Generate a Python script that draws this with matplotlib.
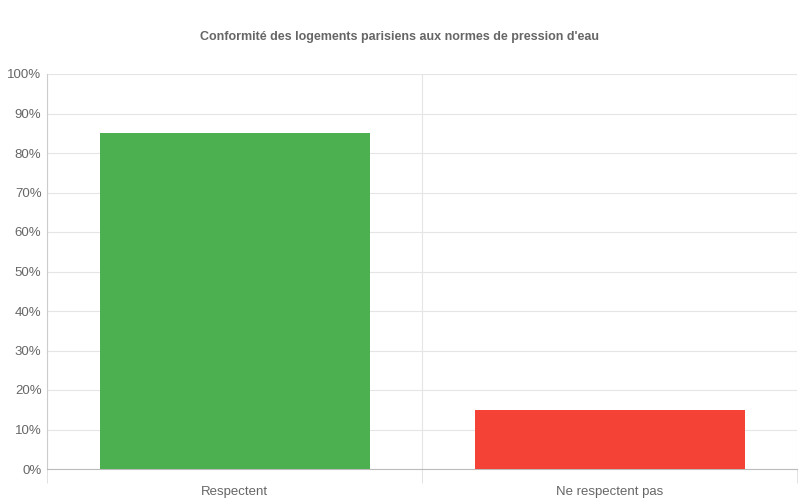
import matplotlib
matplotlib.use("Agg")
import matplotlib.pyplot as plt

categories = ["Respectent", "Ne respectent pas"]
values = [85, 15]
colors = ["#4caf50", "#f44336"]
yticks = list(range(0, 101, 10))

plt.rcParams['font.family'] = ['Liberation Sans', 'DejaVu Sans']
fig = plt.figure(figsize=(8, 5), dpi=100)
ax = fig.add_axes([47/800, 1-469/500, 750/800, 395/500])
x = range(len(categories))
ax.bar(x, values, width=0.72, color=colors, zorder=3)
ax.set_xlim(-0.5, 1.5)
ax.set_ylim(0, 100)
ax.set_yticks(yticks)
ax.set_yticklabels([f"{v}%" for v in yticks], fontsize=9.5, color="#666")
ax.set_xticks(list(x))
ax.set_xticklabels(categories, fontsize=9.5, color="#666")
ax.set_xticks([-0.5, 0.5, 1.5], minor=True)
ax.tick_params(axis='x', which='major', length=0, pad=12)
ax.tick_params(axis='x', which='minor', length=10, color="#ddd")
ax.tick_params(axis='y', length=0, pad=4)
ax.grid(axis='y', color="#e5e5e5", lw=0.8, zorder=0)
ax.grid(axis='x', which='minor', color="#e5e5e5", lw=0.8, zorder=0)
for s in ['top', 'right']:
    ax.spines[s].set_visible(False)
ax.spines['left'].set_color("#ccc")
ax.spines['bottom'].set_color("#bbb")
fig.text(0.5, 1-37/500, "Conformité des logements parisiens aux normes de pression d'eau",
         ha='center', va='center', fontsize=9, fontweight='bold', color="#666")
fig.savefig("out.png", dpi=100)
